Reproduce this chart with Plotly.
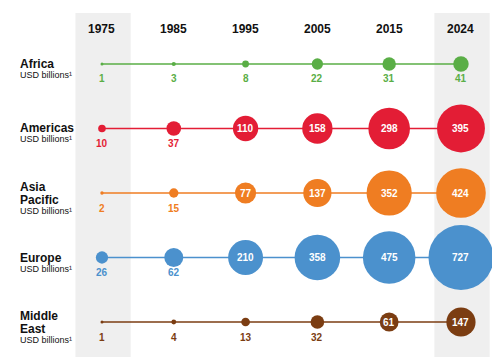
import plotly.graph_objects as go
import math

years = ["1975", "1985", "1995", "2005", "2015", "2024"]
regions = [["Africa"], ["Americas"], ["Asia", "Pacific"], ["Europe"], ["Middle", "East"]]
africa = [1, 3, 8, 22, 31, 41]
americas = [10, 37, 110, 158, 298, 395]
asia_pacific = [2, 15, 77, 137, 352, 424]
europe = [26, 62, 210, 358, 475, 727]
middle_east = [1, 4, 13, 32, 61, 147]
series = [africa, americas, asia_pacific, europe, middle_east]
subtitle = "USD billions¹"
highlight_years = ["1975", "2024"]

colors = ["#5aae46", "#e31d35", "#ef7d22", "#4b91cd", "#7b3d12"]
inside_min = [10**9, 100, 70, 100, 60]  # label placed inside bubble at/above this value
K = 2.41  # px diameter per sqrt(value)

FONT = "Liberation Sans, Arial, Helvetica, sans-serif"
fig = go.Figure()

xi = list(range(len(years)))
for r, (vals, col) in enumerate(zip(series, colors)):
    sizes = [max(3, K * math.sqrt(v)) for v in vals]
    fig.add_trace(go.Scatter(
        x=xi, y=[r] * len(vals), mode="lines+markers",
        line=dict(color=col, width=1.5),
        marker=dict(size=sizes, color=col, sizemode="diameter", line=dict(width=0), opacity=1),
        hoverinfo="skip", showlegend=False, cliponaxis=False))
    for i, v in enumerate(vals):
        if v >= inside_min[r]:
            fig.add_annotation(x=i, y=r, text=f"<b>{v}</b>", showarrow=False,
                               font=dict(family=FONT, size=10, color="white"),
                               xanchor="center", yanchor="middle")
        else:
            fig.add_annotation(x=i, y=r, text=f"<b>{v}</b>", showarrow=False,
                               font=dict(family=FONT, size=10, color=col),
                               xanchor="center", yanchor="middle", yshift=-15)
    lines = regions[r]
    if len(lines) == 1:
        shifts, sub_shift = [0], -11
    else:
        shifts, sub_shift = [6.5, -6.5], -17.5
    for ln, sh in zip(lines, shifts):
        fig.add_annotation(xref="paper", x=0.02, y=r, text=f"<b>{ln}</b>",
                           showarrow=False, font=dict(family=FONT, size=12, color="#111111"),
                           xanchor="left", yanchor="middle", align="left", yshift=sh)
    fig.add_annotation(xref="paper", x=0.02, y=r, text=subtitle,
                       showarrow=False, font=dict(family=FONT, size=9, color="#111111"),
                       xanchor="left", yanchor="middle", align="left", yshift=sub_shift)

for i, yr in enumerate(years):
    if yr in highlight_years:
        fig.add_shape(type="rect", xref="x", yref="paper", x0=i - 0.37, x1=i + 0.40,
                      y0=1 - 349 / 362, y1=1 - 5 / 362, fillcolor="#efefef",
                      line=dict(width=0), layer="below")
    fig.add_annotation(x=i, y=-0.543, text=f"<b>{yr}</b>", showarrow=False,
                       font=dict(family=FONT, size=12, color="#111111"),
                       xanchor="center", yanchor="middle")

fig.update_layout(
    width=500, height=362, margin=dict(l=0, r=0, t=0, b=0),
    paper_bgcolor="white", plot_bgcolor="rgba(0,0,0,0)",
    xaxis=dict(range=[-1.309, 5.655], visible=False, fixedrange=True),
    yaxis=dict(range=[4.744, -0.868], visible=False, fixedrange=True),
)
fig.write_html("out.html")
